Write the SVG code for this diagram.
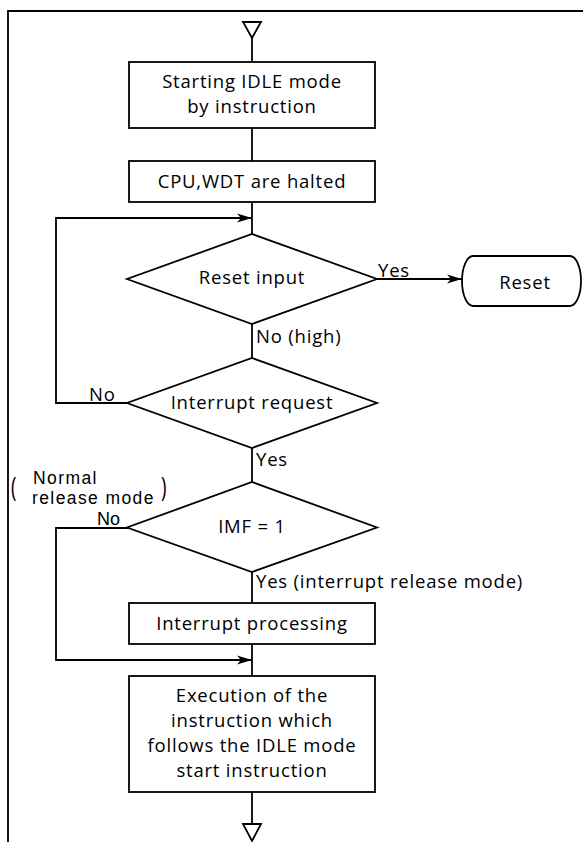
<svg xmlns="http://www.w3.org/2000/svg" width="583" height="842" viewBox="0 0 583 842">
<style>
.s{fill:none;stroke:#000;stroke-width:1.8}
.b{fill:#fff;stroke:#000;stroke-width:1.8}
text{font-family:"Open Sans","Noto Sans","Liberation Sans",sans-serif;font-size:18.5px;letter-spacing:0.8px;fill:#000}
.c{text-anchor:middle}
.n{font-family:"Liberation Sans",Arial,sans-serif;font-size:17.5px;letter-spacing:1.4px}
.m{font-family:"Liberation Sans",Arial,sans-serif;font-size:18px;letter-spacing:0px}
</style>
<defs>
<marker id="ah" markerUnits="userSpaceOnUse" markerWidth="16" markerHeight="10" refX="15" refY="5" orient="auto">
<path d="M0,0.5 L15,5 L0,9.5 L4,5 Z" fill="#000"/>
</marker>
</defs>
<rect width="583" height="842" fill="#fff"/>
<path class="s" d="M8,842 V11 H583"/>
<g id="connectors">
<polygon class="s" points="243,22 261,22 252,38"/>
<path class="s" d="M252,38 V62"/>
<path class="s" d="M252,128 V161"/>
<path class="s" d="M252,202 V234"/>
<path class="s" d="M252,324 V358"/>
<path class="s" d="M252,448 V482"/>
<path class="s" d="M252,572 V603"/>
<path class="s" d="M252,644 V676"/>
<path class="s" d="M252,792 V824"/>
<polygon class="s" points="243,824 261,824 252,841"/>
<path class="s" d="M377,279 H462" marker-end="url(#ah)"/>
<path class="s" d="M128,403 H56 V218 H252" marker-end="url(#ah)"/>
<path class="s" d="M128,528 H56 V660 H252" marker-end="url(#ah)"/>
<text x="378" y="277">Yes</text>
<text x="256" y="343">No (high)</text>
<text x="89" y="401">No</text>
<text x="256" y="466">Yes</text>
<text class="m" x="97" y="525">No</text>
<text x="256" y="588">Yes (interrupt release mode)</text>
<text class="n" x="33" y="484">Normal</text>
<text class="n" x="32" y="504">release mode</text>
<text transform="translate(11,497) scale(1,1.45)">(</text>
<text transform="translate(161,497) scale(1,1.45)">)</text>
</g>
<g id="start-idle">
<rect class="b" x="129" y="62" width="246" height="66"/>
<text class="c" x="252" y="88">Starting IDLE mode</text>
<text class="c" x="252" y="113">by instruction</text>
</g>
<g id="halted">
<rect class="b" x="129" y="161" width="246" height="41"/>
<text class="c" x="252" y="188">CPU,WDT are halted</text>
</g>
<g id="reset-input">
<polygon class="b" points="252,234 377,279 252,324 127,279"/>
<text class="c" x="252" y="284">Reset input</text>
</g>
<g id="reset">
<path class="b" d="M473,256 H570 A11,25 0 0 1 570,306 H473 A11,25 0 0 1 473,256 Z"/>
<text class="c" x="525" y="289">Reset</text>
</g>
<g id="interrupt-request">
<polygon class="b" points="252,358 377,403 252,448 127,403"/>
<text class="c" x="252" y="409">Interrupt request</text>
</g>
<g id="imf">
<polygon class="b" points="252,482 377,527.5 252,572 127,527.5"/>
<text class="c" x="252" y="533">IMF = 1</text>
</g>
<g id="interrupt-processing">
<rect class="b" x="129" y="603" width="246" height="41"/>
<text class="c" x="252" y="630">Interrupt processing</text>
</g>
<g id="execution">
<rect class="b" x="129" y="676" width="246" height="116"/>
<text class="c" x="252" y="702">Execution of the</text>
<text class="c" x="252" y="727">instruction which</text>
<text class="c" x="252" y="752">follows the IDLE mode</text>
<text class="c" x="252" y="777">start instruction</text>
</g>
</svg>
